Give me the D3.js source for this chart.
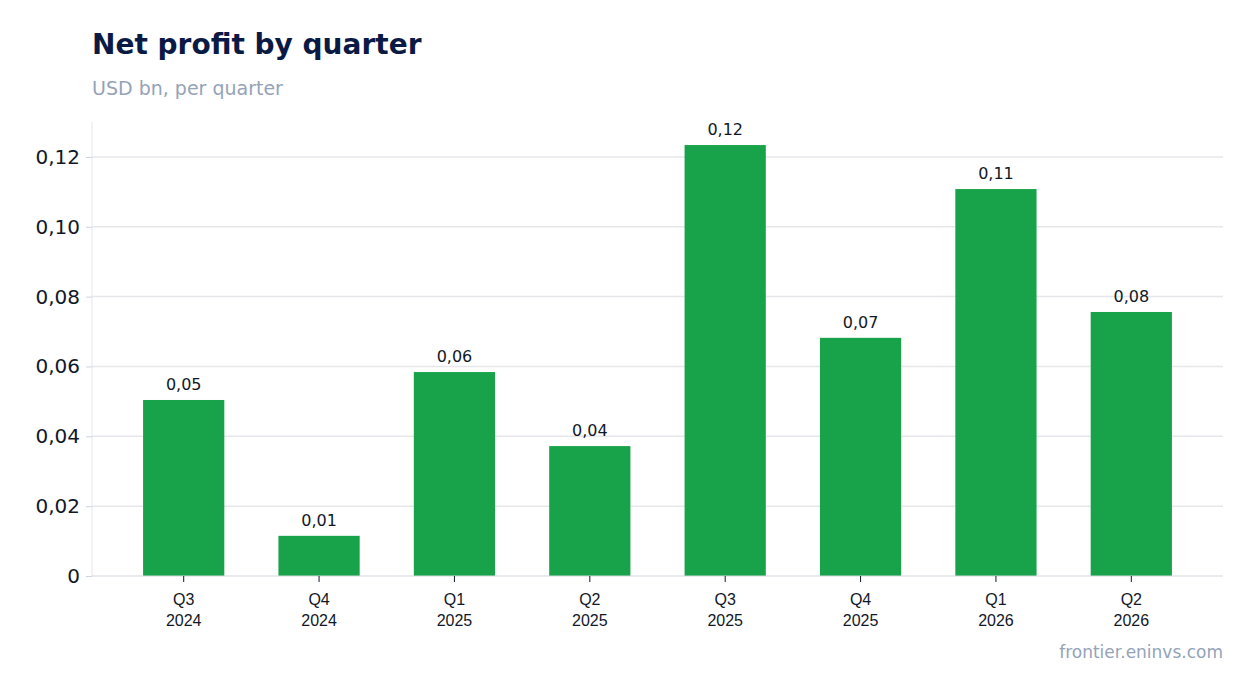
<!DOCTYPE html>
<html><head><meta charset="utf-8">
<script src="https://cdn.jsdelivr.net/npm/d3@7"></script>
<style>body{margin:0;background:#fff;font-family:"DejaVu Sans",sans-serif}</style>
</head><body><svg id="c" width="1254" height="693"></svg>
<script>
const categories = ["Q3 2024","Q4 2024","Q1 2025","Q2 2025","Q3 2025","Q4 2025","Q1 2026","Q2 2026"];
const values = [0.0504,0.0115,0.0584,0.0372,0.1234,0.0682,0.1108,0.0756];
const yTicks = [0,0.02,0.04,0.06,0.08,0.10,0.12];
const fmt = v => v===0 ? "0" : v.toFixed(2).replace(".", ",");

const svg = d3.select("#c");
const L=92,R=1223,T=122,B=576;
const x = d3.scaleBand().domain(categories).range([116,1199]).paddingInner(0.4).paddingOuter(0.2);
const y = d3.scaleLinear().domain([0,0.13]).range([B,T]);

svg.append("text").attr("x",92).attr("y",54).attr("font-size",28).attr("font-weight","bold").attr("fill","#0b1a45").text("Net profit by quarter");
svg.append("text").attr("x",92).attr("y",95).attr("font-size",19).attr("fill","#94a3b8").text("USD bn, per quarter");
svg.append("text").attr("x",1223).attr("y",658).attr("text-anchor","end").attr("font-size",17).attr("fill","#94a3b8").text("frontier.eninvs.com");

svg.append("g").selectAll("line").data(yTicks.slice(1)).join("line")
 .attr("x1",L).attr("x2",R).attr("y1",d=>y(d)).attr("y2",d=>y(d)).attr("stroke","#e5e7eb").attr("stroke-width",1.5);

const ya = svg.append("g").attr("transform",`translate(${L},0)`).call(d3.axisLeft(y).tickValues(yTicks).tickFormat(fmt).tickSize(6).tickPadding(6));
ya.select(".domain").attr("stroke","#e5e7eb").attr("d",`M0,${T}V${B}`);
ya.selectAll(".tick line").attr("stroke","#cbd5e1");
ya.selectAll("text").attr("font-size",20).attr("fill","#111827").attr("font-family","DejaVu Sans");

svg.selectAll("rect.bar").data(values).join("rect")
 .attr("x",(d,i)=>x(categories[i])).attr("width",x.bandwidth())
 .attr("y",d=>y(d)).attr("height",d=>B-y(d)).attr("fill","#18a34a");
svg.selectAll("text.v").data(values).join("text")
 .attr("x",(d,i)=>x(categories[i])+x.bandwidth()/2).attr("y",d=>y(d)-10)
 .attr("text-anchor","middle").attr("font-size",16).attr("fill","#111827").text(d=>fmt(d));

const xa = svg.append("g").attr("transform",`translate(0,${B})`).call(d3.axisBottom(x).tickSize(6).tickFormat(""));
xa.select(".domain").attr("stroke","#d1d5db").attr("d",`M${L},0H${R}`);
xa.selectAll(".tick line").attr("stroke","#111827");
xa.selectAll(".tick").each(function(d){
  const p=d.split(" "); const t=d3.select(this).append("text").attr("fill","#111827").attr("font-size",16).attr("text-anchor","middle");
  t.append("tspan").attr("x",0).attr("y",29).text(p[0]);
  t.append("tspan").attr("x",0).attr("y",50).text(p[1]);
});
</script></body></html>
